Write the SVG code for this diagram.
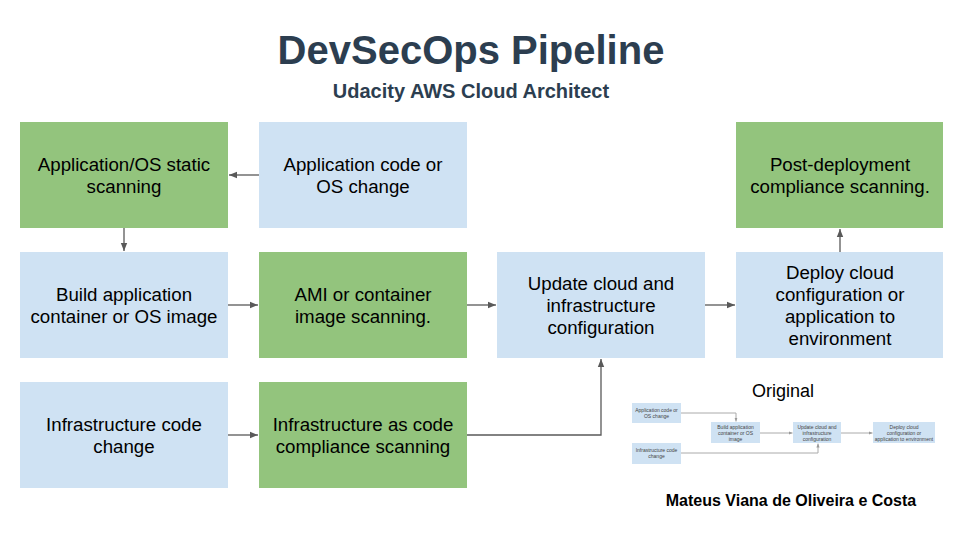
<svg xmlns="http://www.w3.org/2000/svg" width="960" height="540" viewBox="0 0 960 540">
<defs>
<marker id="ah" viewBox="0 0 10 10" refX="10" refY="5" markerWidth="8" markerHeight="8" markerUnits="userSpaceOnUse" orient="auto">
<path d="M0,1 L10,5 L0,9 z" fill="#595959"/>
</marker>
<marker id="ahs" viewBox="0 0 10 10" refX="10" refY="5" markerWidth="4" markerHeight="4" markerUnits="userSpaceOnUse" orient="auto">
<path d="M0,1 L10,5 L0,9 z" fill="#999999"/>
</marker>
</defs>
<style>
.blue{fill:#cfe2f3}
.green{fill:#93c47d}
.t{font-family:"Liberation Sans",Arial,sans-serif;font-size:18.7px;fill:#000;text-anchor:middle}
.s{font-family:"Liberation Sans",Arial,sans-serif;font-size:5px;fill:#444;text-anchor:middle}
.c{fill:none;stroke:#595959;stroke-width:1.3}
.cs{fill:none;stroke:#aaaaaa;stroke-width:1}
.h{font-family:"Liberation Sans",Arial,sans-serif;font-weight:bold;fill:#2c3e50;text-anchor:middle}
</style>
<rect width="960" height="540" fill="#ffffff"/>
<text class="h" x="471" y="64" font-size="40">DevSecOps Pipeline</text>
<text class="h" x="471" y="98" font-size="20">Udacity AWS Cloud Architect</text>

<g id="connectors">
<path class="c" d="M259,175 L229,175" marker-end="url(#ah)"/>
<path class="c" d="M124,228 L124,251" marker-end="url(#ah)"/>
<path class="c" d="M228,305 L258,305" marker-end="url(#ah)"/>
<path class="c" d="M467,305 L496,305" marker-end="url(#ah)"/>
<path class="c" d="M705,305 L735,305" marker-end="url(#ah)"/>
<path class="c" d="M840,252 L840,229" marker-end="url(#ah)"/>
<path class="c" d="M228,435 L258,435" marker-end="url(#ah)"/>
<path class="c" d="M467,435 L601,435 L601,359" marker-end="url(#ah)"/>
</g>

<g id="static-scan"><rect class="green" x="20" y="122" width="208" height="106"/>
<text class="t" x="124" y="171">Application/OS static</text><text class="t" x="124" y="193">scanning</text></g>
<g id="app-change"><rect class="blue" x="259" y="122" width="208" height="106"/>
<text class="t" x="363" y="171">Application code or</text><text class="t" x="363" y="193">OS change</text></g>
<g id="post-deploy"><rect class="green" x="736" y="122" width="207" height="106"/>
<text class="t" x="840" y="171">Post-deployment</text><text class="t" x="840" y="193">compliance scanning.</text></g>

<g id="build"><rect class="blue" x="20" y="252" width="208" height="106"/>
<text class="t" x="124" y="301">Build application</text><text class="t" x="124" y="323">container or OS image</text></g>
<g id="ami-scan"><rect class="green" x="259" y="252" width="208" height="106"/>
<text class="t" x="363" y="301">AMI or container</text><text class="t" x="363" y="323">image scanning.</text></g>
<g id="update"><rect class="blue" x="497" y="252" width="208" height="106"/>
<text class="t" x="601" y="290">Update cloud and</text><text class="t" x="601" y="312">infrastructure</text><text class="t" x="601" y="334">configuration</text></g>
<g id="deploy"><rect class="blue" x="736" y="252" width="207" height="106"/>
<text class="t" x="840" y="279">Deploy cloud</text><text class="t" x="840" y="301">configuration or</text><text class="t" x="840" y="323">application to</text><text class="t" x="840" y="345">environment</text></g>

<g id="infra-change"><rect class="blue" x="20" y="382" width="208" height="106"/>
<text class="t" x="124" y="431">Infrastructure code</text><text class="t" x="124" y="453">change</text></g>
<g id="iac-scan"><rect class="green" x="259" y="382" width="208" height="106"/>
<text class="t" x="363" y="431">Infrastructure as code</text><text class="t" x="363" y="453">compliance scanning</text></g>

<g id="original">
<text x="783" y="397" font-family="'Liberation Sans',Arial,sans-serif" font-size="18" fill="#000" text-anchor="middle">Original</text>
<g id="o-connectors">
<path class="cs" d="M681,413 L736,413 L736,421.5" marker-end="url(#ahs)"/>
<path class="cs" d="M760,433 L792.5,433" marker-end="url(#ahs)"/>
<path class="cs" d="M841,433 L872.5,433" marker-end="url(#ahs)"/>
<path class="cs" d="M681,453 L818,453 L818,443.5" marker-end="url(#ahs)"/>
</g>
<g id="o-app"><rect class="blue" x="632" y="403" width="49" height="20"/>
<text class="s" x="656.5" y="412">Application code or</text><text class="s" x="656.5" y="418">OS change</text></g>
<g id="o-build"><rect class="blue" x="711" y="422" width="49" height="21"/>
<text class="s" x="735.5" y="429">Build application</text><text class="s" x="735.5" y="435">container or OS</text><text class="s" x="735.5" y="441">image</text></g>
<g id="o-update"><rect class="blue" x="793" y="422" width="48" height="21"/>
<text class="s" x="817" y="429">Update cloud and</text><text class="s" x="817" y="435">infrastructure</text><text class="s" x="817" y="441">configuration</text></g>
<g id="o-deploy"><rect class="blue" x="873" y="422" width="62" height="21"/>
<text class="s" x="904" y="429">Deploy cloud</text><text class="s" x="904" y="435">configuration or</text><text class="s" x="904" y="441">application to environment</text></g>
<g id="o-infra"><rect class="blue" x="632" y="443" width="49" height="21"/>
<text class="s" x="656.5" y="452">Infrastructure code</text><text class="s" x="656.5" y="458">change</text></g>
</g>

<text x="791" y="506" font-family="'Liberation Sans',Arial,sans-serif" font-size="16" font-weight="bold" fill="#000" text-anchor="middle">Mateus Viana de Oliveira e Costa</text>
</svg>
